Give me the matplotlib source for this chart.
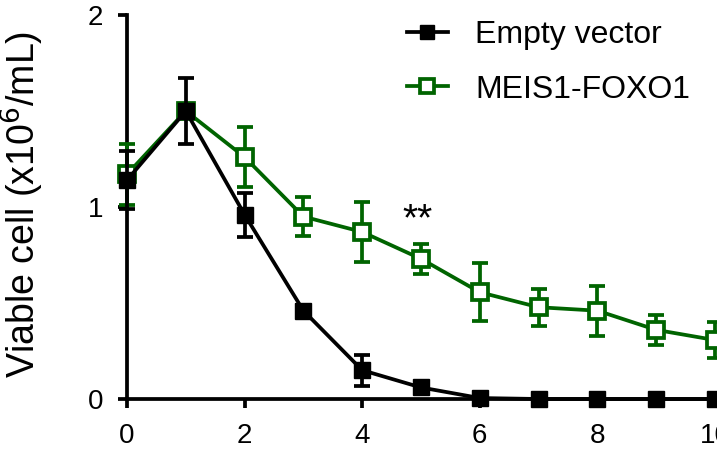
import matplotlib
matplotlib.use("Agg")
import matplotlib.pyplot as plt
from matplotlib.lines import Line2D

plt.rcParams['font.family'] = ['Liberation Sans', 'DejaVu Sans']

days = [0, 1, 2, 3, 4, 5, 6, 7, 8, 9, 10]
ev_mean = [1.14, 1.50, 0.96, 0.46, 0.15, 0.06, 0.005, 0.0, 0.0, 0.0, 0.0]
ev_err = [0.15, 0.17, 0.115, 0.03, 0.08, 0.01, 0.005, 0.0, 0.0, 0.0, 0.0]
mf_mean = [1.17, 1.50, 1.26, 0.95, 0.87, 0.73, 0.556, 0.478, 0.46, 0.36, 0.307]
mf_err = [0.16, 0.03, 0.155, 0.10, 0.155, 0.077, 0.15, 0.097, 0.13, 0.08, 0.095]
labels = ["Empty vector", "MEIS1-FOXO1"]
x_ticks = [0, 2, 4, 6, 8, 10]
y_ticks = [0, 1, 2]
green = "#006400"
LW = 2.7

fig = plt.figure(figsize=(7.17, 4.54), dpi=100)
ax = fig.add_axes([127/717, 55/454, 588/717, 384/454])

ax.errorbar(days, mf_mean, yerr=mf_err, color=green, lw=LW, marker='s',
            ms=11, mfc='white', mec=green, mew=LW, capsize=5.8, capthick=LW,
            elinewidth=LW, zorder=3, clip_on=False)
ax.errorbar(days, ev_mean, yerr=ev_err, color='black', lw=LW, marker='s',
            ms=12, mfc='black', mec='black', capsize=5.8, capthick=LW,
            elinewidth=LW, zorder=4, clip_on=False)

ax.text(4.95, 0.88, "**", ha='center', va='baseline', fontsize=28)

ax.set_xlim(0, 10)
ax.set_ylim(0, 2)
ax.set_xticks(x_ticks)
ax.set_yticks(y_ticks)
ax.tick_params(labelsize=20, width=LW, length=6.5, pad=10.5)
for s in ['top', 'right']:
    ax.spines[s].set_visible(False)
for s in ['left', 'bottom']:
    ax.spines[s].set_linewidth(LW)
ax.set_ylabel("Viable cell (x10$^{6}$/mL)", fontsize=27)
ax.yaxis.set_label_coords(-0.138, 0.506)

handles = [
    Line2D([], [], color='black', lw=LW, marker='s', ms=10, mfc='black', mec='black'),
    Line2D([], [], color=green, lw=LW, marker='s', ms=9.5, mfc='white', mec=green, mew=LW),
]
leg = fig.legend(handles, labels, loc='upper left',
                 bbox_to_anchor=(407/717, 1 - 20/454), frameon=False, fontsize=23,
                 handlelength=1.28, handletextpad=0.85, borderpad=0,
                 borderaxespad=0, labelspacing=0.77)

fig.savefig("out.png", dpi=100)
